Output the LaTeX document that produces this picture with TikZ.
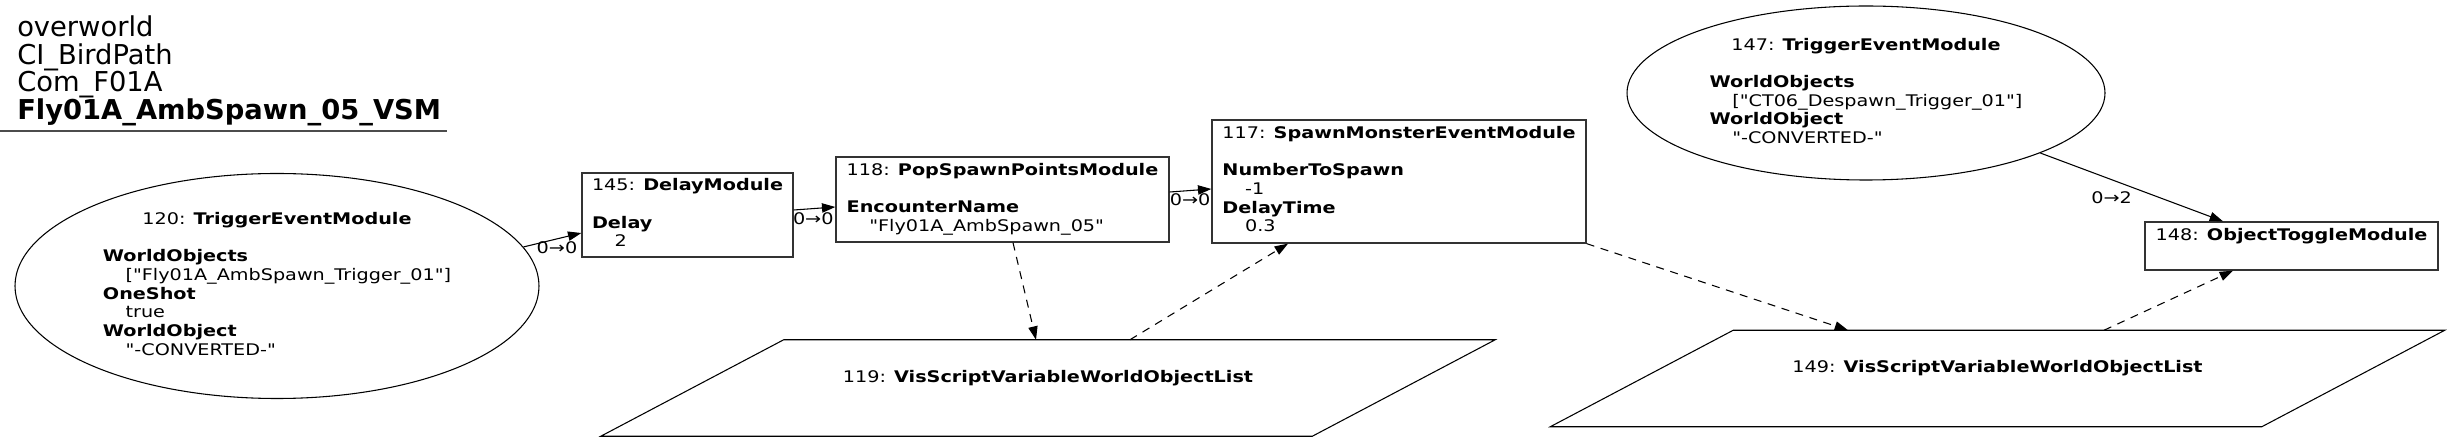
\documentclass[tikz,border=0pt]{standalone}
\usepackage{fontspec}
\setmainfont{DejaVu Sans}[Ligatures=TeXOff]
\newfontfamily\nodefont{DejaVu Sans}[Ligatures=TeXOff, FakeStretch=1.2]
\usetikzlibrary{shapes.geometric, arrows.meta, calc}

\newcommand{\mhead}[2]{#1: \textbf{#2}}
\newcommand{\mval}[1]{\hspace*{17pt}#1}

\begin{document}
\begin{tikzpicture}[
  x=0.75pt, y=-0.75pt,
  every node/.style={font=\nodefont\fontsize{12}{14}\selectfont},
  mbox/.style n args={2}{rectangle, draw=black!80, line width=1pt, inner sep=0pt,
              minimum width=#1, minimum height=#2},
  trig/.style n args={2}{ellipse, draw, line width=0.8pt, inner sep=0pt,
              minimum width=#1, minimum height=#2},
  vlist/.style={rectangle, inner sep=0pt, minimum width=533.25pt, minimum height=72pt},
  flow/.style={-{Triangle[length=10pt, width=7pt]}, line width=0.8pt},
  vref/.style={flow, dash pattern=on 6pt off 5pt},
  elab/.style={inner sep=0.5pt}
]
\fill[white] (0,0) rectangle (2449,441);
\useasboundingbox (0,0) rectangle (2449,441);

% Title
\node[anchor=north west, inner sep=0pt, align=left, font=\normalfont\fontsize{20.5}{20.4}\selectfont]
  (title) at (17,15.9) {overworld\\CI\_BirdPath\\Com\_F01A\\\textbf{Fly01A\_AmbSpawn\_05\_VSM}};
\draw[line width=1.6pt, black!70] (0,131) -- (447,131);

% Nodes
\node[trig={393pt}{168.75pt}] (t120) at (277,286) {\begin{tabular}{@{}l@{}}
  \multicolumn{1}{@{}c@{}}{\mhead{120}{TriggerEventModule}}\\ \\
  \textbf{WorldObjects}\\ \mval{["Fly01A\_AmbSpawn\_Trigger\_01"]}\\
  \textbf{OneShot}\\ \mval{true}\\
  \textbf{WorldObject}\\ \mval{"-CONVERTED-"}
\end{tabular}};
\node[mbox={158.25pt}{63pt}] (m145) at (687.5,215) {\begin{tabular}{@{}l@{}}
  \mhead{145}{DelayModule}\\ \\ \textbf{Delay}\\ \mval{2}
\end{tabular}};
\node[mbox={249.75pt}{63.75pt}] (m118) at (1002.5,199.5) {\begin{tabular}{@{}l@{}}
  \mhead{118}{PopSpawnPointsModule}\\ \\ \textbf{EncounterName}\\ \mval{"Fly01A\_AmbSpawn\_05"}
\end{tabular}};
\node[mbox={280.5pt}{92.25pt}] (m117) at (1399,181.5) {\begin{tabular}{@{}l@{}}
  \mhead{117}{SpawnMonsterEventModule}\\ \\ \textbf{NumberToSpawn}\\ \mval{-1}\\
  \textbf{DelayTime}\\ \mval{0.3}
\end{tabular}};
\node[vlist] (v119) at (1048,388) {\begin{tabular}{@{}c@{}}
  \mhead{119}{VisScriptVariableWorldObjectList}\\ \\
\end{tabular}};
\node[trig={358.5pt}{130.5pt}] (t147) at (1866,93) {\begin{tabular}{@{}l@{}}
  \multicolumn{1}{@{}c@{}}{\mhead{147}{TriggerEventModule}}\\ \\
  \textbf{WorldObjects}\\ \mval{["CT06\_Despawn\_Trigger\_01"]}\\
  \textbf{WorldObject}\\ \mval{"-CONVERTED-"}
\end{tabular}};
\node[mbox={219.75pt}{36pt}] (m148) at (2291.5,246) {\begin{tabular}{@{}l@{}}
  \mhead{148}{ObjectToggleModule}\\ \\
\end{tabular}};
\node[vlist] (v149) at (1997.5,378.5) {\begin{tabular}{@{}c@{}}
  \mhead{149}{VisScriptVariableWorldObjectList}\\ \\
\end{tabular}};

% Parallelogram outlines
\foreach \v in {v119, v149}
  \draw[line width=0.8pt] ($(\v.north west)+(91.5,0)$) -- ($(\v.north east)+(91.5,0)$)
    -- ($(\v.south east)+(-91.5,0)$) -- ($(\v.south west)+(-91.5,0)$) -- cycle;

% Arrows
\draw[flow] (t120.9.8) -- node[elab, pos=0.58, below=1pt] {0→0} ($(m145.west)+(0,18)$);
\draw[flow] ($(m145.east)+(0,-5)$) -- node[elab, pos=0.47, below=2pt] {0→0} ($(m118.west)+(0,7.5)$);
\draw[flow] ($(m118.east)+(0,-7.5)$) -- node[elab, pos=0.49, below=1.5pt] {0→0} ($(m117.west)+(0,7.5)$);
\draw[flow] (t147.-19.5) -- node[elab, pos=0.39, below=8pt] {0→2} ($(m148.north)+(-68.5,0)$);

\draw[vref] ($(m118.south)+(10.5,0)$) -- ($(v119.north)+(-12,0)$);
\draw[vref] ($(v119.north)+(82,0)$) -- ($(m117.south)+(-111,0)$);
\draw[vref] (m117.south east) -- ($(v149.north)+(-149.5,0)$);
\draw[vref] ($(v149.north)+(106.5,0)$) -- ($(m148.south)+(-58.5,0)$);

\end{tikzpicture}
\end{document}
